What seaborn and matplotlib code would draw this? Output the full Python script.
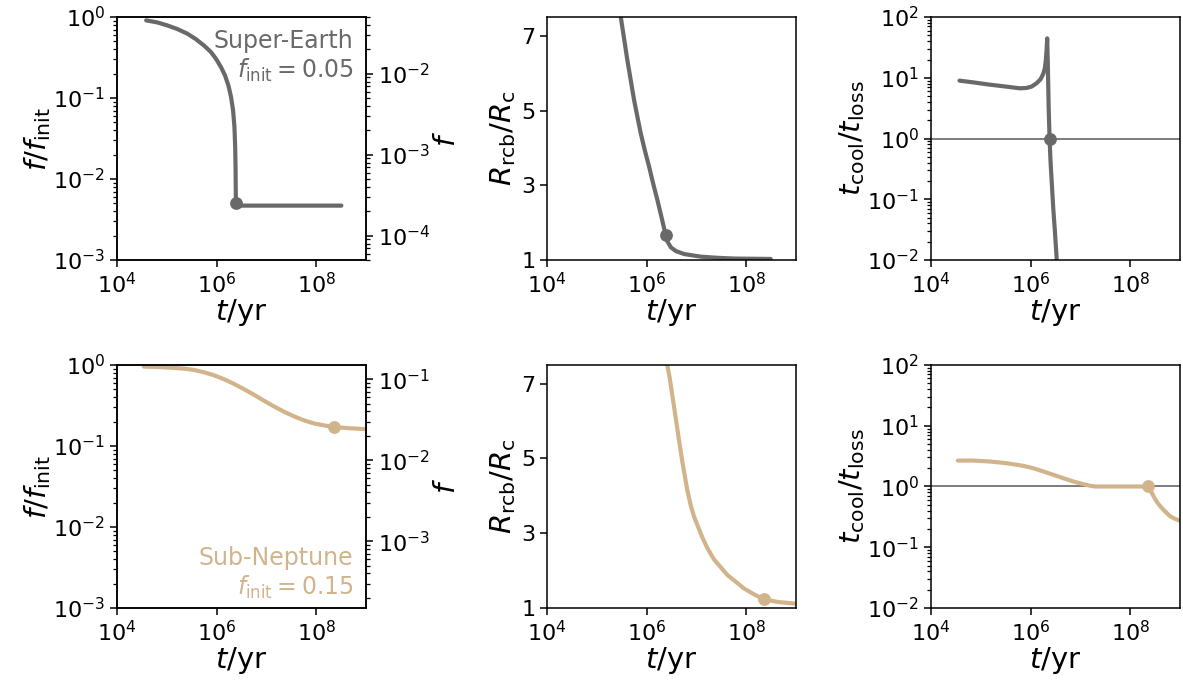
import numpy as np
import pandas as pd
import matplotlib
matplotlib.use("Agg")
import matplotlib.pyplot as plt
from matplotlib.ticker import NullLocator, LogLocator
import seaborn as sns

# ---- Super-Earth (f_init = 0.05) ----
se_finit = 0.05
se_t_frac = [3.85e4, 6.43e4, 1.02e5, 1.63e5, 2.59e5, 3.82e5, 5.63e5, 7.69e5, 9.70e5,
             1.22e6, 1.47e6, 1.72e6, 1.95e6, 2.14e6, 2.28e6, 2.36e6, 2.40e6, 2.42e6,
             2.44e6, 2.6e6, 3.2e8]
se_frac = [0.910, 0.859, 0.789, 0.711, 0.623, 0.535, 0.443, 0.370, 0.306,
           0.242, 0.191, 0.144, 0.103, 0.0707, 0.0441, 0.0249, 0.0142, 0.0081,
           0.0050, 0.0047, 0.0047]
se_t_rcb = [2.7e5, 3.01e5, 3.52e5, 4.10e5, 4.80e5, 5.60e5, 6.53e5, 7.62e5, 9.18e5,
            1.12e6, 1.35e6, 1.65e6, 2.02e6, 2.4e6, 2.63e6, 3.07e6, 3.87e6, 5.71e6,
            1.24e7, 2.69e7, 5.82e7, 3.1e8]
se_rcb = [8.0, 7.52, 6.93, 6.35, 5.81, 5.28, 4.83, 4.39, 3.94,
          3.50, 3.05, 2.60, 2.11, 1.68, 1.49, 1.34, 1.24, 1.16,
          1.09, 1.06, 1.04, 1.03]
se_t_ratio = [3.73e4, 6.92e4, 1.50e5, 3.26e5, 6.05e5, 8.25e5, 1.04e6, 1.31e6, 1.58e6,
              1.79e6, 1.93e6, 2.02e6, 2.09e6, 2.15e6, 2.22e6, 2.30e6, 2.40e6, 2.50e6,
              2.66e6, 2.86e6, 3.09e6, 3.34e6, 3.4e6]
se_ratio = [8.98, 8.43, 7.72, 7.16, 6.72, 6.80, 7.16, 8.12, 9.45,
            11.6, 14.3, 19.6, 28.7, 44.6, 15.3, 3.36, 1.0, 0.446,
            0.184, 0.0672, 0.0278, 0.0102, 0.0079]
se_t_mark = 2.4e6
se_mark_frac, se_mark_rcb, se_mark_ratio = 0.0050, 1.68, 1.0

# ---- Sub-Neptune (f_init = 0.15) ----
sn_finit = 0.15
sn_t_frac = [3.45e4, 6.41e4, 1.19e5, 2.21e5, 3.52e5, 5.60e5, 8.91e5, 1.42e6, 2.25e6,
             3.59e6, 5.71e6, 9.08e6, 1.45e7, 2.30e7, 3.66e7, 5.82e7, 9.25e7, 1.47e8,
             2.34e8, 4.35e8, 1.07e9]
sn_frac = [0.954, 0.945, 0.927, 0.901, 0.868, 0.812, 0.746, 0.666, 0.583,
           0.501, 0.427, 0.360, 0.306, 0.263, 0.231, 0.206, 0.189, 0.179,
           0.171, 0.166, 0.161]
sn_t_rcb = [2.4e6, 2.59e6, 2.91e6, 3.26e6, 4.12e6, 4.62e6, 5.20e6, 6.56e6, 7.64e6,
            8.91e6, 1.32e7, 1.66e7, 2.25e7, 4.20e7, 9.08e7, 1.45e8, 2.30e8, 4.35e8, 1.0e9]
sn_rcb = [7.9, 7.51, 7.15, 6.71, 5.81, 5.36, 4.92, 4.15, 3.76,
          3.45, 2.88, 2.60, 2.30, 1.88, 1.52, 1.36, 1.23, 1.16, 1.115]
sn_t_ratio = [3.45e4, 6.92e4, 1.50e5, 3.26e5, 7.06e5, 1.12e6, 1.79e6, 2.84e6, 4.52e6,
              7.19e6, 1.15e7, 1.56e7, 1.97e7, 2.34e8, 2.61e8, 2.96e8, 3.45e8, 4.03e8,
              5.08e8, 6.41e8, 8.09e8, 1.0e9]
sn_ratio = [2.67, 2.67, 2.58, 2.42, 2.19, 2.00, 1.77, 1.56, 1.37,
            1.21, 1.09, 1.03, 1.0, 1.0, 0.828, 0.685, 0.552, 0.469,
            0.384, 0.321, 0.291, 0.273]
sn_t_mark = 2.32e8
sn_mark_frac, sn_mark_rcb, sn_mark_ratio = 0.171, 1.23, 1.0

GREY = "#696969"
TAN = "#D2B48C"
FS = 16
LFS = 21

sns.set_theme(style="ticks", rc={
    "axes.edgecolor": "black",
    "axes.labelcolor": "black",
    "text.color": "black",
    "axes.linewidth": 1.1,
    "xtick.major.size": 5, "ytick.major.size": 5,
    "xtick.minor.size": 3, "ytick.minor.size": 3,
    "xtick.major.width": 1.1, "ytick.major.width": 1.1,
    "xtick.minor.width": 0.9, "ytick.minor.width": 0.9,
    "xtick.color": "black", "ytick.color": "black",
    "xtick.labelsize": FS, "ytick.labelsize": FS,
    "axes.labelsize": LFS,
    "mathtext.fontset": "dejavusans",
})
plt.rcParams["font.family"] = ["DejaVu Sans"]

fig = plt.figure(figsize=(11.83, 6.88), dpi=100)

lefts = [0.0989, 0.4624, 0.787]
bottoms = [0.622, 0.1163]
W, H = 0.2105, 0.3532

rows = [
    dict(color=GREY, finit=se_finit, name="Super-Earth", fstr="0.05",
         tf=se_t_frac, f=se_frac, tr=se_t_rcb, r=se_rcb, tq=se_t_ratio, q=se_ratio,
         tm=se_t_mark, mf=se_mark_frac, mr=se_mark_rcb, mq=se_mark_ratio, top=True),
    dict(color=TAN, finit=sn_finit, name="Sub-Neptune", fstr="0.15",
         tf=sn_t_frac, f=sn_frac, tr=sn_t_rcb, r=sn_rcb, tq=sn_t_ratio, q=sn_ratio,
         tm=sn_t_mark, mf=sn_mark_frac, mr=sn_mark_rcb, mq=sn_mark_ratio, top=False),
]


def style_x(ax):
    ax.set_xscale("log")
    ax.set_xlim(1e4, 1e9)
    ax.set_xticks([1e4, 1e6, 1e8])
    ax.xaxis.set_minor_locator(NullLocator())
    ax.set_xlabel("$t$/yr", labelpad=0)


def draw_curve(ax, t, y, c, tm, ym, **kw):
    sns.lineplot(x=t, y=y, ax=ax, color=c, lw=3, sort=False, estimator=None, **kw)
    sns.scatterplot(x=[tm], y=[ym], ax=ax, color=c, s=85, linewidth=0, zorder=5)


for row, b in zip(rows, bottoms):
    c = row["color"]

    # fraction of envelope remaining
    ax = fig.add_axes([lefts[0], b, W, H])
    draw_curve(ax, row["tf"], row["f"], c, row["tm"], row["mf"])
    ax.set_yscale("log")
    ax.set_ylim(1e-3, 1)
    style_x(ax)
    ax.set_ylabel("$f/f_\\mathrm{init}$", labelpad=0)
    txt = f"{row['name']}\n$f_\\mathrm{{init}}={row['fstr']}$"
    if row["top"]:
        ax.text(0.95, 0.95, txt, transform=ax.transAxes, ha="right", va="top",
                color=c, fontsize=17, linespacing=1.15)
    else:
        ax.text(0.95, 0.03, txt, transform=ax.transAxes, ha="right", va="bottom",
                color=c, fontsize=17, linespacing=1.15)
    ax2 = ax.twinx()
    ax2.set_yscale("log")
    ax2.set_ylim(row["finit"] * 1e-3, row["finit"])
    ax2.yaxis.set_major_locator(LogLocator(base=10, numticks=10))
    ax2.set_ylabel("$f$", labelpad=2)
    for a in (ax, ax2):
        a.tick_params(which="both", direction="out")

    # radiative-convective boundary radius
    ax = fig.add_axes([lefts[1], b, W, H])
    draw_curve(ax, row["tr"], row["r"], c, row["tm"], row["mr"])
    ax.set_ylim(1, 7.5)
    ax.set_yticks([1, 3, 5, 7])
    style_x(ax)
    ax.set_ylabel("$R_\\mathrm{rcb}/R_\\mathrm{c}$", labelpad=2)

    # cooling vs loss timescale
    ax = fig.add_axes([lefts[2], b, W, H])
    ax.axhline(1, color="0.35", lw=1.1, zorder=1)
    draw_curve(ax, row["tq"], row["q"], c, row["tm"], row["mq"], zorder=2)
    ax.set_yscale("log")
    ax.set_ylim(1e-2, 1e2)
    ax.yaxis.set_major_locator(LogLocator(base=10, numticks=10))
    style_x(ax)
    ax.set_ylabel("$t_\\mathrm{cool}/t_\\mathrm{loss}$", labelpad=0)

fig.savefig("out.png", dpi=100)
